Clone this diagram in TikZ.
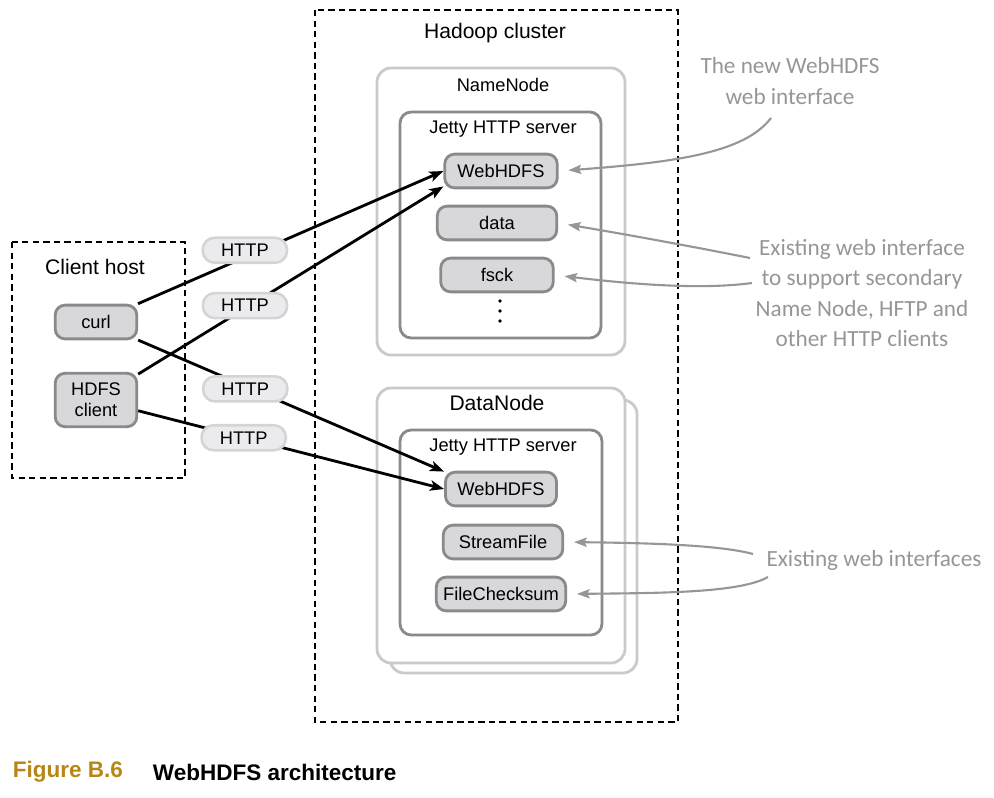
\documentclass[tikz,border=0pt]{standalone}
\usepackage{fontspec}
\setmainfont{Liberation Sans}
\newfontfamily\notefont{Carlito}
\usepackage{tikz}
\usetikzlibrary{arrows.meta}

\definecolor{boxgray}{RGB}{138,138,140}
\definecolor{framegray}{RGB}{202,202,204}
\definecolor{svcfill}{RGB}{216,216,219}
\definecolor{httpfill}{RGB}{235,235,238}
\definecolor{httpline}{RGB}{212,212,214}
\definecolor{notegray}{RGB}{150,150,152}
\definecolor{figgold}{RGB}{184,134,22}

\tikzset{
    svc/.style = {draw = boxgray, fill = svcfill, line width = 2pt,
        rounded corners = 7pt, minimum height = 24pt, inner sep = 2pt,
        font = \fontsize{13}{15}\selectfont},
    http/.style = {draw = httpline, fill = httpfill, line width = 1.8pt,
        rounded corners = 8.5pt, minimum width = 60pt, minimum height = 17.8pt,
        inner sep = 1pt, font = \fontsize{13}{15}\selectfont},
    link/.style = {-{Stealth[length = 10pt, width = 7.5pt, inset = 2.5pt]}, line width = 2pt},
    note/.style = {-{Stealth[length = 9pt, width = 6.5pt, inset = 1.5pt]}, notegray,
        line width = 1.5pt, shorten > = 7pt},
    notetext/.style = {text = notegray, align = center,
        font = \notefont\fontsize{16.5}{21.5}\selectfont},
    frame/.style = {draw, line width = 1.2pt, dash pattern = on 4.5pt off 3pt},
    host/.style = {line width = 2pt, rounded corners = 10pt, fill = white},
    jetty/.style = {draw = boxgray, line width = 2pt, rounded corners = 8pt},
}

\begin{document}
\begin{tikzpicture}[x = 0.025cm, y = -0.025cm]
    \useasboundingbox (0, 0) rectangle (994, 797);

    %% client host
    \draw[frame] (12, 242) rectangle (185, 478);
    \node[font = \fontsize{15}{18}\selectfont] (cltitle) at (95, 267) {Client host};
    \node[svc, minimum width = 58pt] (curl) at (96, 322) {curl};
    \node[svc, minimum width = 58pt, minimum height = 38pt, align = center]
        (hdfs) at (96, 400) {HDFS\\client};

    %% hadoop cluster
    \draw[frame] (315, 10) rectangle (678, 722);
    \node[font = \fontsize{15}{18}\selectfont] (hctitle) at (495, 33) {Hadoop cluster};

    %% namenode
    \draw[host, draw = framegray] (377, 68) rectangle (625, 355);
    \node[font = \fontsize{13}{15}\selectfont] (nntitle) at (503, 85) {NameNode};
    \draw[jetty] (400, 112) rectangle (601, 338);
    \node[font = \fontsize{13}{15}\selectfont] (nnjetty) at (503, 129) {Jetty HTTP server};
    \node[svc, minimum width = 80pt] (nnweb) at (501, 171) {WebHDFS};
    \node[svc, minimum width = 85pt] (data) at (497, 223) {data};
    \node[svc, minimum width = 80pt] (fsck) at (497, 275) {fsck};
    \foreach \y in {301, 311, 321}
        \fill (500, \y) circle (1.3pt);

    %% datanode (with one behind it)
    \draw[host, draw = framegray] (390, 400) rectangle (637, 673);
    \draw[host, draw = framegray] (377, 388) rectangle (625, 663);
    \node[font = \fontsize{15}{18}\selectfont] (dntitle) at (497, 403) {DataNode};
    \draw[jetty] (400, 430) rectangle (602, 635);
    \node[font = \fontsize{13}{15}\selectfont] (dnjetty) at (503, 447) {Jetty HTTP server};
    \node[svc, minimum width = 79pt] (dnweb) at (501, 489) {WebHDFS};
    \node[svc, minimum width = 85pt] (stream) at (503, 542) {StreamFile};
    \node[svc, minimum width = 92pt] (checksum) at (501, 594) {FileChecksum};

    %% http calls
    \draw[link] (curl) -- node[http, pos = 0.35, yshift = 5pt] (h1) {HTTP} (nnweb.west);
    \draw[link] (hdfs) -- node[http, pos = 0.35, yshift = 2pt] (h2) {HTTP} (nnweb.195);
    \draw[link] (curl) -- node[http, pos = 0.35, yshift = -2pt] (h3) {HTTP} (dnweb.163);
    \draw[link] (hdfs) -- node[http, pos = 0.345] (h4) {HTTP} (dnweb.west);

    %% notes
    \node[notetext] (newnote) at (790, 81) {The new WebHDFS\\web interface};
    \coordinate (newtail) at (771, 118);
    \draw[note] (newtail) .. controls (745, 152) and (680, 162) .. (nnweb.east);

    \node[notetext] (oldnote) at (862, 293)
        {Existing web interface\\to support secondary\\Name Node, HFTP and\\other HTTP clients};
    \coordinate (oldtail1) at (750, 258);
    \coordinate (oldtail2) at (752, 283);
    \draw[note] (oldtail1) .. controls (700, 248) and (630, 235) .. (data.east);
    \draw[note] (oldtail2) .. controls (700, 290) and (630, 284) .. (fsck.east);

    \node[notetext] (ifnote) at (874, 560) {Existing web interfaces};
    \coordinate (iftail1) at (753, 554);
    \coordinate (iftail2) at (768, 577);
    \draw[note] (iftail1) .. controls (720, 545) and (650, 543) .. (stream.east);
    \draw[note] (iftail2) .. controls (740, 593) and (660, 593) .. (checksum.east);

    %% caption
    \node[anchor = west, text = figgold, font = \bfseries\fontsize{16}{19}\selectfont]
        (figno) at (8, 772) {Figure B.6};
    \node[anchor = west, font = \bfseries\fontsize{16}{19}\selectfont]
        (figtitle) at (148, 772) {WebHDFS architecture};
\end{tikzpicture}
\end{document}
